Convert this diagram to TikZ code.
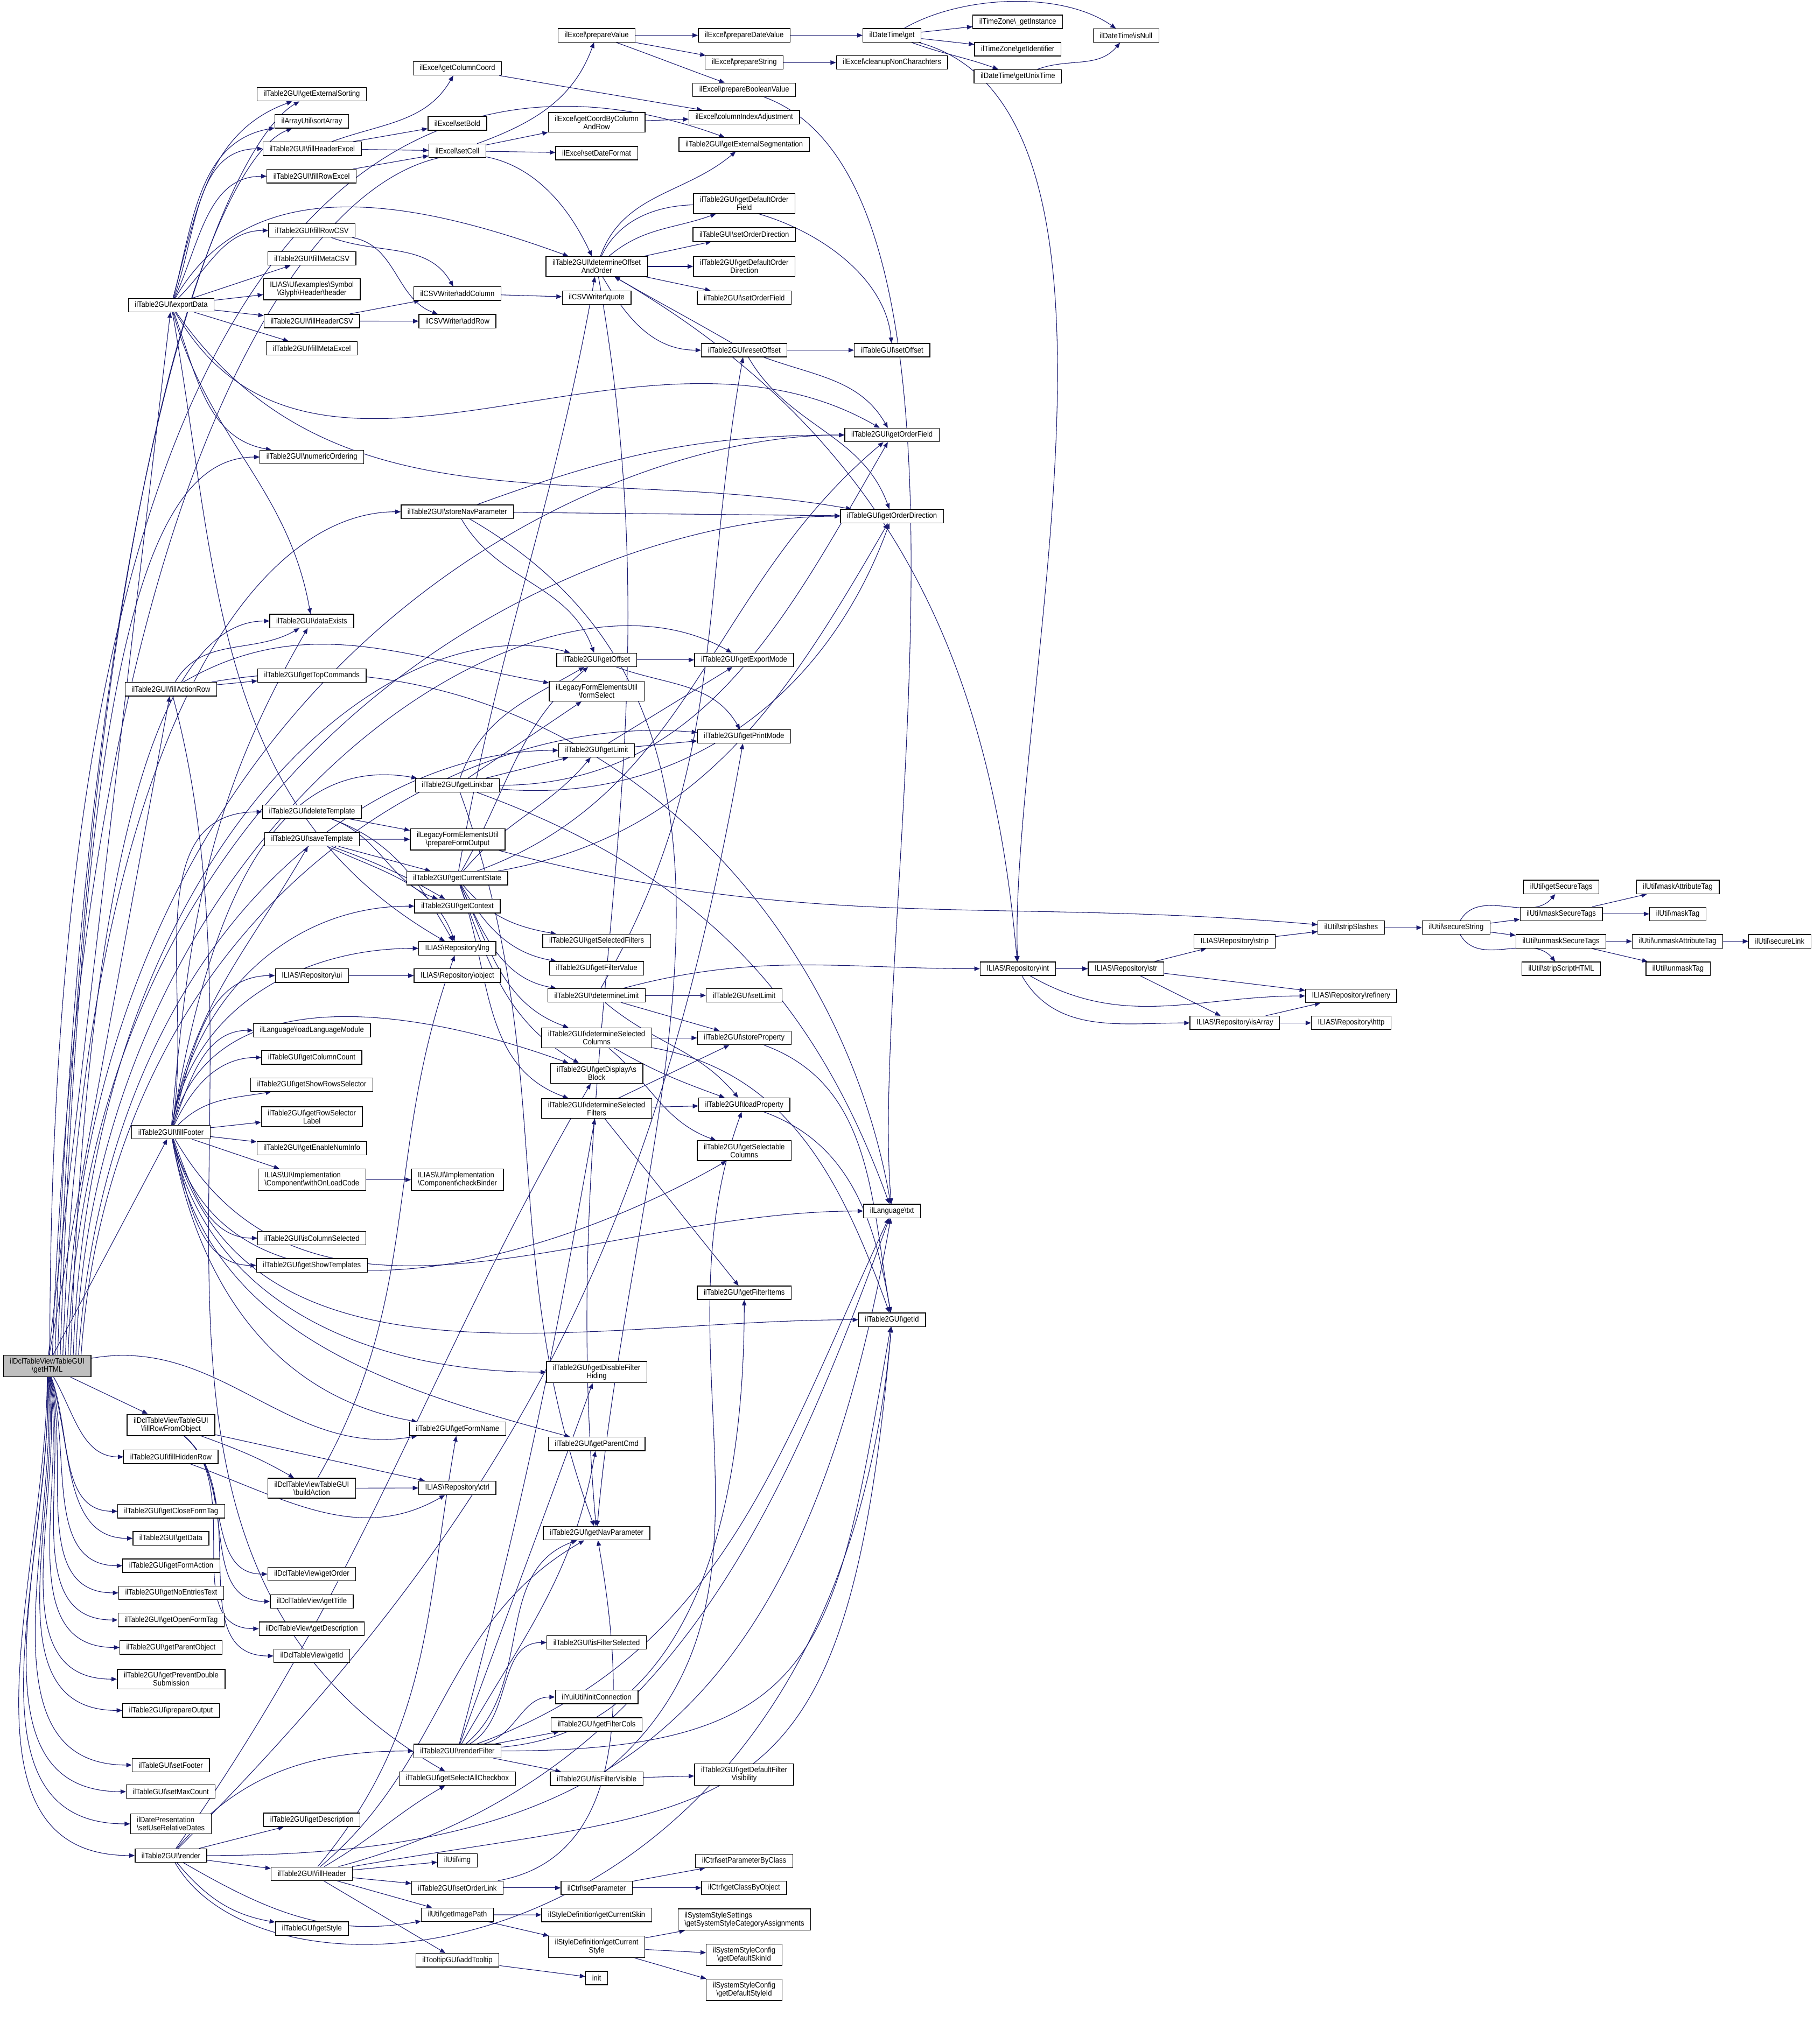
\documentclass[tikz,border=0pt]{standalone}
\usepackage{fontspec}
\setmainfont{Liberation Sans}[FakeStretch=0.9]
\usetikzlibrary{arrows.meta}
\definecolor{callblue}{HTML}{191970}
\definecolor{rootgray}{HTML}{BFBFBF}
\newcommand{\bsl}{\textbackslash}
\pgfdeclarelayer{edges}
\pgfsetlayers{edges,main}

\begin{document}
\begin{tikzpicture}[x=1pt,y=-1pt,>={Triangle[length=4.2pt,width=3.4pt]},font=\fontsize{6}{6.2}\selectfont]
        \tikzset{box/.style={draw,line width=0.55pt,fill=white,inner xsep=5pt,inner ysep=2.3pt,minimum height=10.4pt,align=center}}
        \tikzset{lbox/.style={box,align=left}}
        \tikzset{call/.style={->,draw=callblue,line width=0.45pt}}
        \useasboundingbox (0,0) rectangle (1391,1568);
        % column 1
        \node[box,fill=rootgray] (getHTML) at (36.2,1047.9) {ilDclTableViewTableGUI\\\bsl getHTML};
        \node[box] (exportData) at (131.3,234.1) {ilTable2GUI\bsl exportData};
        \node[box] (fillActionRow) at (131.1,528.7) {ilTable2GUI\bsl fillActionRow};
        \node[box] (fillFooter) at (131.1,868.4) {ilTable2GUI\bsl fillFooter};
        \node[box] (fillRowFromObject) at (131.1,1093.1) {ilDclTableViewTableGUI\\\bsl fillRowFromObject};
        \node[box] (fillHiddenRow) at (131.1,1117.6) {ilTable2GUI\bsl fillHiddenRow};
        \node[box] (getCloseFormTag) at (131.3,1159.3) {ilTable2GUI\bsl getCloseFormTag};
        \node[box] (getData) at (131.1,1180.1) {ilTable2GUI\bsl getData};
        \node[box] (getFormAction) at (131.3,1201.1) {ilTable2GUI\bsl getFormAction};
        \node[box] (getNoEntriesText) at (131.3,1221.9) {ilTable2GUI\bsl getNoEntriesText};
        \node[box] (getOpenFormTag) at (131.3,1242.7) {ilTable2GUI\bsl getOpenFormTag};
        \node[box] (getParentObject) at (131.1,1263.8) {ilTable2GUI\bsl getParentObject};
        \node[box] (getPreventDoubleSubmission) at (131.3,1288.1) {ilTable2GUI\bsl getPreventDouble\\Submission};
        \node[box] (prepareOutput) at (131.1,1312.1) {ilTable2GUI\bsl prepareOutput};
        \node[box] (setFooter) at (131.0,1354.0) {ilTableGUI\bsl setFooter};
        \node[box] (setMaxCount) at (131.0,1374.4) {ilTableGUI\bsl setMaxCount};
        \node[lbox] (setUseRelativeDates) at (131.0,1399.1) {ilDatePresentation\\\bsl setUseRelativeDates};
        \node[box] (render) at (131.1,1423.4) {ilTable2GUI\bsl render};
        % column 2
        \node[box] (getExternalSorting) at (239.1,72.3) {ilTable2GUI\bsl getExternalSorting};
        \node[box] (sortArray) at (239.1,93.1) {ilArrayUtil\bsl sortArray};
        \node[box] (fillHeaderExcel) at (239.4,114.1) {ilTable2GUI\bsl fillHeaderExcel};
        \node[box] (fillRowExcel) at (239.0,135.2) {ilTable2GUI\bsl fillRowExcel};
        \node[box] (fillRowCSV) at (239.2,176.8) {ilTable2GUI\bsl fillRowCSV};
        \node[box] (fillMetaCSV) at (239.2,198.2) {ilTable2GUI\bsl fillMetaCSV};
        \node[box] (glyphHeader) at (239.2,221.8) {ILIAS\bsl UI\bsl examples\bsl Symbol\\\bsl Glyph\bsl Header\bsl header};
        \node[box] (fillHeaderCSV) at (239.2,246.3) {ilTable2GUI\bsl fillHeaderCSV};
        \node[box] (fillMetaExcel) at (239.2,267.2) {ilTable2GUI\bsl fillMetaExcel};
        \node[box] (numericOrdering) at (239.2,350.6) {ilTable2GUI\bsl numericOrdering};
        \node[box] (dataExists) at (239.1,476.4) {ilTable2GUI\bsl dataExists};
        \node[box] (getTopCommands) at (239.2,518.3) {ilTable2GUI\bsl getTopCommands};
        \node[box] (deleteTemplate) at (239.3,622.8) {ilTable2GUI\bsl deleteTemplate};
        \node[box] (saveTemplate) at (239.3,643.8) {ilTable2GUI\bsl saveTemplate};
        \node[box] (repoUi) at (239.2,748.4) {ILIAS\bsl Repository\bsl ui};
        \node[box] (loadLanguageModule) at (239.2,790.4) {ilLanguage\bsl loadLanguageModule};
        \node[box] (getColumnCount) at (239.1,811.2) {ilTableGUI\bsl getColumnCount};
        \node[box] (getShowRowsSelector) at (239.1,832.0) {ilTable2GUI\bsl getShowRowsSelector};
        \node[box] (getRowSelectorLabel) at (239.2,856.6) {ilTable2GUI\bsl getRowSelector\\Label};
        \node[box] (getEnableNumInfo) at (239.2,880.8) {ilTable2GUI\bsl getEnableNumInfo};
        \node[lbox] (withOnLoadCode) at (239.2,905.0) {ILIAS\bsl UI\bsl Implementation\\\bsl Component\bsl withOnLoadCode};
        \node[box] (isColumnSelected) at (239.2,949.8) {ilTable2GUI\bsl isColumnSelected};
        \node[box] (getShowTemplates) at (239.2,970.7) {ilTable2GUI\bsl getShowTemplates};
        \node[box] (buildAction) at (239.1,1141.6) {ilDclTableViewTableGUI\\\bsl buildAction};
        \node[box] (tvGetOrder) at (239.1,1207.5) {ilDclTableView\bsl getOrder};
        \node[box] (tvGetTitle) at (239.1,1228.5) {ilDclTableView\bsl getTitle};
        \node[box] (tvGetDescription) at (239.1,1249.4) {ilDclTableView\bsl getDescription};
        \node[box] (tvGetId) at (239.1,1270.3) {ilDclTableView\bsl getId};
        \node[box] (getDescription) at (239.2,1396.0) {ilTable2GUI\bsl getDescription};
        \node[box] (fillHeader) at (239.1,1437.4) {ilTable2GUI\bsl fillHeader};
        \node[box] (getStyle) at (239.2,1479.5) {ilTableGUI\bsl getStyle};
        % column 3
        \node[box] (getColumnCoord) at (350.8,52.5) {ilExcel\bsl getColumnCoord};
        \node[box] (setBold) at (350.8,94.7) {ilExcel\bsl setBold};
        \node[box] (setCell) at (350.8,115.7) {ilExcel\bsl setCell};
        \node[box] (addColumn) at (350.8,225.2) {ilCSVWriter\bsl addColumn};
        \node[box] (addRow) at (350.8,246.4) {ilCSVWriter\bsl addRow};
        \node[box] (storeNavParameter) at (350.7,392.6) {ilTable2GUI\bsl storeNavParameter};
        \node[box] (getLinkbar) at (350.8,602.4) {ilTable2GUI\bsl getLinkbar};
        \node[box] (prepareFormOutput) at (351.0,643.9) {ilLegacyFormElementsUtil\\\bsl prepareFormOutput};
        \node[box] (getCurrentState) at (350.7,673.7) {ilTable2GUI\bsl getCurrentState};
        \node[box] (getContext) at (350.8,695.1) {ilTable2GUI\bsl getContext};
        \node[box] (repoLng) at (350.7,727.5) {ILIAS\bsl Repository\bsl lng};
        \node[box] (repoObject) at (350.8,748.4) {ILIAS\bsl Repository\bsl object};
        \node[lbox] (checkBinder) at (350.8,905.0) {ILIAS\bsl UI\bsl Implementation\\\bsl Component\bsl checkBinder};
        \node[box] (getFormName) at (350.9,1096.1) {ilTable2GUI\bsl getFormName};
        \node[box] (repoCtrl) at (350.7,1141.4) {ILIAS\bsl Repository\bsl ctrl};
        \node[box] (renderFilter) at (350.8,1343.2) {ilTable2GUI\bsl renderFilter};
        \node[box] (getSelectAllCheckbox) at (350.8,1364.3) {ilTableGUI\bsl getSelectAllCheckbox};
        \node[box] (utilImg) at (350.8,1427.1) {ilUtil\bsl img};
        \node[box] (setOrderLink) at (350.8,1448.2) {ilTable2GUI\bsl setOrderLink};
        \node[box] (getImagePath) at (350.8,1468.8) {ilUtil\bsl getImagePath};
        \node[box] (addTooltip) at (350.8,1503.7) {ilTooltipGUI\bsl addTooltip};
        % column 4
        \node[box] (prepareValue) at (457.6,27.1) {ilExcel\bsl prepareValue};
        \node[box] (getCoordByColumnAndRow) at (457.6,93.9) {ilExcel\bsl getCoordByColumn\\AndRow};
        \node[box] (setDateFormat) at (457.6,117.5) {ilExcel\bsl setDateFormat};
        \node[box] (determineOffsetAndOrder) at (457.6,204.4) {ilTable2GUI\bsl determineOffset\\AndOrder};
        \node[box] (csvQuote) at (457.6,228.4) {ilCSVWriter\bsl quote};
        \node[box] (getOffset) at (457.6,506.2) {ilTable2GUI\bsl getOffset};
        \node[box] (formSelect) at (457.6,530.3) {ilLegacyFormElementsUtil\\\bsl formSelect};
        \node[box] (getLimit) at (457.6,575.6) {ilTable2GUI\bsl getLimit};
        \node[box] (getSelectedFilters) at (457.6,721.9) {ilTable2GUI\bsl getSelectedFilters};
        \node[box] (getFilterValue) at (457.6,742.8) {ilTable2GUI\bsl getFilterValue};
        \node[box] (determineLimit) at (457.6,763.6) {ilTable2GUI\bsl determineLimit};
        \node[box] (determineSelectedColumns) at (457.6,796.2) {ilTable2GUI\bsl determineSelected\\Columns};
        \node[box] (getDisplayAsBlock) at (457.6,823.4) {ilTable2GUI\bsl getDisplayAs\\Block};
        \node[box] (determineSelectedFilters) at (457.6,850.4) {ilTable2GUI\bsl determineSelected\\Filters};
        \node[box] (getDisableFilterHiding) at (457.6,1052.6) {ilTable2GUI\bsl getDisableFilter\\Hiding};
        \node[box] (getParentCmd) at (457.6,1107.7) {ilTable2GUI\bsl getParentCmd};
        \node[box] (getNavParameter) at (457.6,1176.1) {ilTable2GUI\bsl getNavParameter};
        \node[box] (isFilterSelected) at (457.6,1260.0) {ilTable2GUI\bsl isFilterSelected};
        \node[box] (initConnection) at (457.6,1301.8) {ilYuiUtil\bsl initConnection};
        \node[box] (getFilterCols) at (457.6,1322.9) {ilTable2GUI\bsl getFilterCols};
        \node[box] (isFilterVisible) at (457.6,1364.5) {ilTable2GUI\bsl isFilterVisible};
        \node[box] (setParameter) at (457.6,1448.2) {ilCtrl\bsl setParameter};
        \node[box] (getCurrentSkin) at (457.6,1469.0) {ilStyleDefinition\bsl getCurrentSkin};
        \node[box] (getCurrentStyle) at (457.6,1493.5) {ilStyleDefinition\bsl getCurrent\\Style};
        \node[box] (init) at (457.6,1517.4) {init};
        % column 5
        \node[box] (prepareDateValue) at (570.8,27.1) {ilExcel\bsl prepareDateValue};
        \node[box] (prepareString) at (570.8,48.0) {ilExcel\bsl prepareString};
        \node[box] (prepareBooleanValue) at (570.8,68.9) {ilExcel\bsl prepareBooleanValue};
        \node[box] (columnIndexAdjustment) at (570.8,89.9) {ilExcel\bsl columnIndexAdjustment};
        \node[box] (getExternalSegmentation) at (570.8,110.8) {ilTable2GUI\bsl getExternalSegmentation};
        \node[box] (getDefaultOrderField) at (570.8,156.1) {ilTable2GUI\bsl getDefaultOrder\\Field};
        \node[box] (setOrderDirection) at (570.8,179.9) {ilTableGUI\bsl setOrderDirection};
        \node[box] (getDefaultOrderDirection) at (570.8,204.4) {ilTable2GUI\bsl getDefaultOrder\\Direction};
        \node[box] (setOrderField) at (570.8,228.4) {ilTable2GUI\bsl setOrderField};
        \node[box] (resetOffset) at (570.8,268.6) {ilTable2GUI\bsl resetOffset};
        \node[box] (getExportMode) at (570.7,506.2) {ilTable2GUI\bsl getExportMode};
        \node[box] (getPrintMode) at (570.7,565.0) {ilTable2GUI\bsl getPrintMode};
        \node[box] (setLimit) at (570.7,763.6) {ilTable2GUI\bsl setLimit};
        \node[box] (storeProperty) at (570.8,796.2) {ilTable2GUI\bsl storeProperty};
        \node[box] (loadProperty) at (570.8,847.5) {ilTable2GUI\bsl loadProperty};
        \node[box] (getSelectableColumns) at (570.8,882.7) {ilTable2GUI\bsl getSelectable\\Columns};
        \node[box] (getFilterItems) at (570.8,991.7) {ilTable2GUI\bsl getFilterItems};
        \node[box] (getDefaultFilterVisibility) at (570.7,1361.3) {ilTable2GUI\bsl getDefaultFilter\\Visibility};
        \node[box] (setParameterByClass) at (570.7,1427.5) {ilCtrl\bsl setParameterByClass};
        \node[box] (getClassByObject) at (570.7,1448.2) {ilCtrl\bsl getClassByObject};
        \node[lbox] (getSystemStyleCategoryAssignments) at (570.9,1472.5) {ilSystemStyleSettings\\\bsl getSystemStyleCategoryAssignments};
        \node[box] (getDefaultSkinId) at (570.7,1499.5) {ilSystemStyleConfig\\\bsl getDefaultSkinId};
        \node[box] (getDefaultStyleId) at (570.7,1526.4) {ilSystemStyleConfig\\\bsl getDefaultStyleId};
        % column 6
        \node[box] (dateTimeGet) at (684.1,27.1) {ilDateTime\bsl get};
        \node[box] (cleanupNonCharachters) at (684.1,48.0) {ilExcel\bsl cleanupNonCharachters};
        \node[box] (setOffset) at (684.2,268.6) {ilTableGUI\bsl setOffset};
        \node[box] (getOrderField) at (684.1,333.7) {ilTable2GUI\bsl getOrderField};
        \node[box] (getOrderDirection) at (684.1,396.0) {ilTableGUI\bsl getOrderDirection};
        \node[box] (txt) at (684.1,929.0) {ilLanguage\bsl txt};
        \node[box] (getId) at (684.1,1012.4) {ilTable2GUI\bsl getId};
        % columns 7 and further
        \node[box] (getInstance) at (780.6,16.7) {ilTimeZone\bsl\_getInstance};
        \node[box] (getIdentifier) at (780.6,37.8) {ilTimeZone\bsl getIdentifier};
        \node[box] (getUnixTime) at (780.6,58.6) {ilDateTime\bsl getUnixTime};
        \node[box] (isNull) at (863.6,27.3) {ilDateTime\bsl isNull};
        \node[box] (repoInt) at (780.6,743.1) {ILIAS\bsl Repository\bsl int};
        \node[box] (repoStr) at (863.6,743.1) {ILIAS\bsl Repository\bsl str};
        \node[box] (repoStrip) at (946.9,722.1) {ILIAS\bsl Repository\bsl strip};
        \node[box] (repoIsArray) at (947.1,784.7) {ILIAS\bsl Repository\bsl isArray};
        \node[box] (stripSlashes) at (1036.3,711.6) {ilUtil\bsl stripSlashes};
        \node[box] (repoRefinery) at (1036.2,764.0) {ILIAS\bsl Repository\bsl refinery};
        \node[box] (repoHttp) at (1036.3,784.7) {ILIAS\bsl Repository\bsl http};
        \node[box] (secureString) at (1116.8,711.6) {ilUtil\bsl secureString};
        \node[box] (getSecureTags) at (1197.4,680.4) {ilUtil\bsl getSecureTags};
        \node[box] (maskSecureTags) at (1197.4,701.1) {ilUtil\bsl maskSecureTags};
        \node[box] (unmaskSecureTags) at (1197.2,722.1) {ilUtil\bsl unmaskSecureTags};
        \node[box] (stripScriptHTML) at (1197.4,743.1) {ilUtil\bsl stripScriptHTML};
        \node[box] (maskAttributeTag) at (1286.8,680.4) {ilUtil\bsl maskAttributeTag};
        \node[box] (maskTag) at (1286.8,701.1) {ilUtil\bsl maskTag};
        \node[box] (unmaskAttributeTag) at (1286.6,722.1) {ilUtil\bsl unmaskAttributeTag};
        \node[box] (unmaskTag) at (1287.0,743.1) {ilUtil\bsl unmaskTag};
        \node[box] (secureLink) at (1365.0,722.1) {ilUtil\bsl secureLink};

        \begin{pgfonlayer}{edges}
        % getHTML
        \draw[call] (getHTML) -- (exportData);
        \draw[call] (getHTML) -- (fillActionRow);
        \draw[call] (getHTML) -- (fillFooter);
        \draw[call] ([xshift=2pt]getHTML.north) to[out=90,in=160,out distance=900pt,in distance=250pt] (getExternalSegmentation);
        \draw[call] ([xshift=4pt]getHTML.north) to[out=88,in=115,out distance=880pt,in distance=220pt] (determineOffsetAndOrder);
        \draw[call] ([xshift=6pt]getHTML.north) to[out=88,in=210,out distance=700pt,in distance=60pt] (getExternalSorting);
        \draw[call] ([xshift=8pt]getHTML.north) to[out=88,in=200,out distance=680pt,in distance=60pt] (sortArray);
        \draw[call] ([xshift=10pt]getHTML.north) to[out=88,in=180,out distance=520pt,in distance=90pt] (numericOrdering);
        \draw[call] ([xshift=12pt]getHTML.north) to[out=88,in=180,out distance=480pt,in distance=110pt] (storeNavParameter);
        \draw[call] ([xshift=14pt]getHTML.north) to[out=88,in=180,out distance=520pt,in distance=200pt] (getOrderField);
        \draw[call] ([xshift=16pt]getHTML.north) to[out=88,in=180,out distance=470pt,in distance=200pt] (getOrderDirection);
        \draw[call] ([xshift=18pt]getHTML.north) to[out=88,in=180,out distance=400pt,in distance=80pt] (dataExists);
        \draw[call] ([xshift=20pt]getHTML.north) to[out=88,in=165,out distance=380pt,in distance=150pt] (getOffset);
        \draw[call] ([xshift=22pt]getHTML.north) to[out=88,in=150,out distance=400pt,in distance=180pt] (getExportMode);
        \draw[call] ([xshift=24pt]getHTML.north) to[out=86,in=180,out distance=320pt,in distance=150pt] (getLimit);
        \draw[call] ([xshift=26pt]getHTML.north) to[out=86,in=175,out distance=330pt,in distance=200pt] (getPrintMode);
        \draw[call] (getHTML) -- (fillRowFromObject);
        \draw[call] (getHTML) to[out=-60,in=180] (fillHiddenRow);
        \draw[call] (getHTML) to[out=-70,in=180] (getCloseFormTag);
        \draw[call] (getHTML) to[out=-72,in=180] (getData);
        \draw[call] (getHTML) to[out=-74,in=180] (getFormAction);
        \draw[call] (getHTML) to[out=-76,in=180] (getNoEntriesText);
        \draw[call] (getHTML) to[out=-78,in=180] (getOpenFormTag);
        \draw[call] (getHTML) to[out=-80,in=180] (getParentObject);
        \draw[call] (getHTML) to[out=-82,in=180] (getPreventDoubleSubmission);
        \draw[call] (getHTML) to[out=-84,in=180] (prepareOutput);
        \draw[call] (getHTML) to[out=-86,in=180] (setFooter);
        \draw[call] (getHTML) to[out=-88,in=180] (setMaxCount);
        \draw[call] (getHTML) to[out=-88,in=180] (setUseRelativeDates);
        \draw[call] (getHTML) to[out=-90,in=180] (render);
        \draw[call] (getHTML) to[out=10,in=190] (getFormName);
        % exportData
        \draw[call] (exportData) to[out=75,in=200] (getExternalSorting);
        \draw[call] (exportData) to[out=75,in=190] (sortArray);
        \draw[call] (exportData) to[out=70,in=180] (fillHeaderExcel);
        \draw[call] (exportData) to[out=65,in=180] (fillRowExcel);
        \draw[call] (exportData) to[out=45,in=180] (fillRowCSV);
        \draw[call] (exportData) -- (fillMetaCSV);
        \draw[call] (exportData) -- (glyphHeader);
        \draw[call] (exportData) -- (fillHeaderCSV);
        \draw[call] (exportData) -- (fillMetaExcel);
        \draw[call] (exportData) to[out=60,in=160] (determineOffsetAndOrder);
        \draw[call] (exportData) to[out=-70,in=170] (numericOrdering);
        \draw[call] (exportData) to[out=-75,in=100] (dataExists);
        \draw[call] (exportData) to[out=-60,in=150] (getOrderField);
        \draw[call] (exportData) to[out=-55,in=170] (getOrderDirection);
        \draw[call] (exportData) to[out=-80,in=150] (repoLng);
        % excel and csv helpers
        \draw[call] (fillHeaderExcel) to[out=20,in=-120] (getColumnCoord);
        \draw[call] (fillHeaderExcel) -- (setBold);
        \draw[call] (fillHeaderExcel) -- (setCell);
        \draw[call] (fillRowExcel) -- (setCell);
        \draw[call] (setCell) to[out=20,in=-110] (prepareValue);
        \draw[call] (setCell) -- (getCoordByColumnAndRow);
        \draw[call] (setCell) -- (setDateFormat);
        \draw[call] (prepareValue) -- (prepareDateValue);
        \draw[call] (prepareValue) -- (prepareString);
        \draw[call] (prepareValue) to[out=-20,in=160] (prepareBooleanValue);
        \draw[call] (prepareDateValue) -- (dateTimeGet);
        \draw[call] (prepareString) -- (cleanupNonCharachters);
        \draw[call] (prepareBooleanValue) to[out=-20,in=95,looseness=0.6] (txt);
        \draw[call] (dateTimeGet) -- (getInstance);
        \draw[call] (dateTimeGet) -- (getIdentifier);
        \draw[call] (dateTimeGet) to[out=-20,in=160] (getUnixTime);
        \draw[call] (dateTimeGet) to[out=30,in=145,looseness=0.8] (isNull);
        \draw[call] (dateTimeGet) to[out=-15,in=92,looseness=0.7] (repoInt);
        \draw[call] (getUnixTime) to[out=20,in=-130] (isNull);
        \draw[call] (getColumnCoord) -- (columnIndexAdjustment);
        \draw[call] (getCoordByColumnAndRow) -- (columnIndexAdjustment);
        \draw[call] (fillRowCSV) to[out=-20,in=120] (addColumn);
        \draw[call] (fillRowCSV) to[out=-10,in=160] (addRow);
        \draw[call] (fillHeaderCSV) -- (addColumn);
        \draw[call] (fillHeaderCSV) -- (addRow);
        \draw[call] (addColumn) -- (csvQuote);
        % offset and order
        \draw[call] (determineOffsetAndOrder) to[out=70,in=-140] (getExternalSegmentation);
        \draw[call] (determineOffsetAndOrder) to[out=40,in=-160] (getDefaultOrderField);
        \draw[call] (determineOffsetAndOrder) -- (setOrderDirection);
        \draw[call] (determineOffsetAndOrder) -- (getDefaultOrderDirection);
        \draw[call] (determineOffsetAndOrder) -- (setOrderField);
        \draw[call] (determineOffsetAndOrder) to[out=65,in=95] (setOffset);
        \draw[call] (determineOffsetAndOrder) to[out=-60,in=180] (resetOffset);
        \draw[call] (determineOffsetAndOrder) to[out=-30,in=95] (repoInt);
        \draw[call] (determineOffsetAndOrder) to[out=-80,in=95] (getNavParameter);
        \draw[call] (resetOffset) to[out=150,in=-30] (determineOffsetAndOrder);
        \draw[call] (resetOffset) -- (setOffset);
        \draw[call] (resetOffset) to[out=-20,in=120] (getOrderField);
        \draw[call] (resetOffset) to[out=-60,in=110] (getOrderDirection);
        \draw[call] (storeNavParameter) to[out=-60,in=110] (getOffset);
        \draw[call] (storeNavParameter) to[out=20,in=180] (getOrderField);
        \draw[call] (storeNavParameter) -- (getOrderDirection);
        \draw[call] (storeNavParameter) to[out=-30,in=85] (getNavParameter);
        % action row and footer
        \draw[call] (fillActionRow) to[out=60,in=-150] (dataExists);
        \draw[call] (fillActionRow) -- (getTopCommands);
        \draw[call] (fillActionRow) to[out=30,in=170] (formSelect);
        \draw[call] (fillActionRow) to[out=10,in=100] (txt);
        \draw[call] (fillActionRow) to[out=-75,in=150] (getSelectAllCheckbox);
        \draw[call] (fillFooter) to[out=80,in=170] (getLinkbar);
        \draw[call] (fillFooter) to[out=80,in=180] (deleteTemplate);
        \draw[call] (fillFooter) to[out=80,in=-120] (saveTemplate);
        \draw[call] (fillFooter) to[out=80,in=180] (getContext);
        \draw[call] (fillFooter) to[out=80,in=180] (repoLng);
        \draw[call] (fillFooter) to[out=75,in=180] (repoUi);
        \draw[call] (fillFooter) to[out=85,in=-120] (dataExists);
        \draw[call] (fillFooter) to[out=75,in=160] (getDisplayAsBlock);
        \draw[call] (fillFooter) to[out=70,in=180] (loadLanguageModule);
        \draw[call] (fillFooter) to[out=65,in=180] (getColumnCount);
        \draw[call] (fillFooter) to[out=45,in=190] (getShowRowsSelector);
        \draw[call] (fillFooter) -- (getRowSelectorLabel);
        \draw[call] (fillFooter) -- (getEnableNumInfo);
        \draw[call] (fillFooter) -- (withOnLoadCode);
        \draw[call] (fillFooter) to[out=-60,in=180] (txt);
        \draw[call] (fillFooter) to[out=-70,in=180] (isColumnSelected);
        \draw[call] (fillFooter) to[out=-75,in=180] (getShowTemplates);
        \draw[call] (fillFooter) to[out=-75,in=-150] (getSelectableColumns);
        \draw[call] (fillFooter) to[out=-75,in=180] (getId);
        \draw[call] (fillFooter) to[out=-78,in=180] (getDisableFilterHiding);
        \draw[call] (fillFooter) to[out=-80,in=170] (getFormName);
        \draw[call] (fillFooter) to[out=-80,in=165] (getParentCmd);
        \draw[call] (deleteTemplate) -- (prepareFormOutput);
        \draw[call] (deleteTemplate) to[out=-20,in=160] (getContext);
        \draw[call] (deleteTemplate) to[out=-20,in=120] (repoLng);
        \draw[call] (saveTemplate) -- (prepareFormOutput);
        \draw[call] (saveTemplate) -- (getCurrentState);
        \draw[call] (saveTemplate) to[out=-20,in=150] (getContext);
        \draw[call] (saveTemplate) to[out=-25,in=110] (repoLng);
        \draw[call] (prepareFormOutput) to[out=-15,in=175] (stripSlashes);
        \draw[call] (repoUi) -- (repoObject);
        \draw[call] (withOnLoadCode) -- (checkBinder);
        % linkbar and state
        \draw[call] (getLinkbar) to[out=70,in=-150] (getOffset);
        \draw[call] (getLinkbar) -- (formSelect);
        \draw[call] (getLinkbar) -- (getLimit);
        \draw[call] (getLinkbar) to[out=0,in=-120] (getOrderField);
        \draw[call] (getLinkbar) to[out=-5,in=-110] (getOrderDirection);
        \draw[call] (getLinkbar) to[out=-20,in=110] (txt);
        \draw[call] (getLinkbar) to[out=-70,in=110] (getNavParameter);
        \draw[call] (getCurrentState) to[out=80,in=-100] (determineOffsetAndOrder);
        \draw[call] (getCurrentState) to[out=60,in=-140] (getOffset);
        \draw[call] (getCurrentState) to[out=50,in=-130] (getLimit);
        \draw[call] (getCurrentState) to[out=20,in=-140] (getOrderField);
        \draw[call] (getCurrentState) to[out=10,in=-120] (getOrderDirection);
        \draw[call] (getCurrentState) to[out=-50,in=170] (getSelectedFilters);
        \draw[call] (getCurrentState) to[out=-60,in=170] (getFilterValue);
        \draw[call] (getCurrentState) to[out=-65,in=170] (determineLimit);
        \draw[call] (getCurrentState) to[out=-65,in=160] (determineSelectedColumns);
        \draw[call] (getCurrentState) to[out=-70,in=160] (determineSelectedFilters);
        \draw[call] (getCurrentState) to[out=-70,in=150] (getDisplayAsBlock);
        \draw[call] (getOffset) -- (getExportMode);
        \draw[call] (getOffset) to[out=-20,in=120] (getPrintMode);
        \draw[call] (getLimit) -- (getExportMode);
        \draw[call] (getLimit) -- (getPrintMode);
        \draw[call] (determineLimit) -- (setLimit);
        \draw[call] (determineLimit) -- (storeProperty);
        \draw[call] (determineLimit) to[out=-40,in=130] (loadProperty);
        \draw[call] (determineLimit) to[out=60,in=-100] (resetOffset);
        \draw[call] (determineLimit) to[out=15,in=180] (repoInt);
        \draw[call] (determineSelectedColumns) -- (storeProperty);
        \draw[call] (determineSelectedColumns) to[out=-30,in=160] (loadProperty);
        \draw[call] (determineSelectedColumns) to[out=-40,in=160] (getSelectableColumns);
        \draw[call] (determineSelectedColumns) to[out=-10,in=110] (getId);
        \draw[call] (determineSelectedFilters) -- (storeProperty);
        \draw[call] (determineSelectedFilters) -- (loadProperty);
        \draw[call] (determineSelectedFilters) -- (getFilterItems);
        \draw[call] (storeProperty) to[out=-20,in=100] (getId);
        \draw[call] (loadProperty) to[out=-20,in=100] (getId);
        % rows
        \draw[call] (fillRowFromObject) to[out=-20,in=150] (buildAction);
        \draw[call] (fillRowFromObject) to[out=-40,in=180] (tvGetOrder);
        \draw[call] (fillRowFromObject) to[out=-40,in=180] (tvGetTitle);
        \draw[call] (fillRowFromObject) to[out=-40,in=180] (tvGetDescription);
        \draw[call] (fillRowFromObject) to[out=-40,in=180] (tvGetId);
        \draw[call] (fillRowFromObject) -- (repoCtrl);
        \draw[call] (fillHiddenRow) to[out=-20,in=-150] (repoCtrl);
        \draw[call] (buildAction) -- (repoCtrl);
        \draw[call] (buildAction) to[out=60,in=-110] (repoLng);
        % render
        \draw[call] (render) -- (getDescription);
        \draw[call] (render) -- (fillHeader);
        \draw[call] (render) to[out=-50,in=170] (getStyle);
        \draw[call] (render) to[out=50,in=180] (renderFilter);
        \draw[call] (render) to[out=-30,in=190] (getImagePath);
        \draw[call] (render) to[out=55,in=-120] (getDisplayAsBlock);
        \draw[call] (render) to[out=-60,in=-95,out distance=150pt,in distance=500pt] (getId);
        \draw[call] (render) to[out=0,in=-100,out distance=300pt,in distance=400pt] (txt);
        \draw[call] (render) to[out=45,in=-100] (getPrintMode);
        \draw[call] (renderFilter) to[out=30,in=180] (isFilterSelected);
        \draw[call] (renderFilter) to[out=15,in=180] (initConnection);
        \draw[call] (renderFilter) -- (getFilterCols);
        \draw[call] (renderFilter) -- (isFilterVisible);
        \draw[call] (renderFilter) to[out=40,in=-160] (getNavParameter);
        \draw[call] (renderFilter) to[out=70,in=-110] (getDisableFilterHiding);
        \draw[call] (renderFilter) to[out=75,in=-100] (determineSelectedFilters);
        \draw[call] (renderFilter) to[out=5,in=-90] (getFilterItems);
        \draw[call] (renderFilter) to[out=20,in=-115] (txt);
        \draw[call] (renderFilter) to[out=0,in=-100,out distance=250pt,in distance=250pt] (getId);
        \draw[call] (renderFilter) to[out=60,in=-100] (getParentCmd);
        \draw[call] (isFilterVisible) to[out=40,in=-110] (loadProperty);
        \draw[call] (isFilterVisible) -- (getDefaultFilterVisibility);
        \draw[call] (fillHeader) -- (utilImg);
        \draw[call] (fillHeader) -- (setOrderLink);
        \draw[call] (fillHeader) -- (getImagePath);
        \draw[call] (fillHeader) -- (addTooltip);
        \draw[call] (fillHeader) to[out=30,in=-150] (getSelectAllCheckbox);
        \draw[call] (fillHeader) to[out=50,in=-100] (getFormName);
        \draw[call] (fillHeader) to[out=40,in=-150] (getNavParameter);
        \draw[call] (fillHeader) to[out=15,in=-110] (txt);
        \draw[call] (fillHeader) to[out=10,in=-95,out distance=300pt,in distance=400pt] (getId);
        \draw[call] (setOrderLink) -- (setParameter);
        \draw[call] (setOrderLink) to[out=10,in=-80] (getNavParameter);
        \draw[call] (setParameter) -- (setParameterByClass);
        \draw[call] (setParameter) -- (getClassByObject);
        \draw[call] (getImagePath) -- (getCurrentSkin);
        \draw[call] (getImagePath) -- (getCurrentStyle);
        \draw[call] (getCurrentStyle) -- (getSystemStyleCategoryAssignments);
        \draw[call] (getCurrentStyle) -- (getDefaultSkinId);
        \draw[call] (getCurrentStyle) -- (getDefaultStyleId);
        \draw[call] (addTooltip) -- (init);
        % repository and util
        \draw[call] (repoInt) -- (repoStr);
        \draw[call] (repoInt) to[out=-30,in=180] (repoRefinery);
        \draw[call] (repoInt) to[out=-60,in=180] (repoIsArray);
        \draw[call] (repoStr) -- (repoStrip);
        \draw[call] (repoStr) -- (repoRefinery);
        \draw[call] (repoStr) -- (repoIsArray);
        \draw[call] (repoStrip) -- (stripSlashes);
        \draw[call] (repoIsArray) -- (repoRefinery);
        \draw[call] (repoIsArray) -- (repoHttp);
        \draw[call] (stripSlashes) -- (secureString);
        \draw[call] (secureString) to[out=60,in=-130] (getSecureTags);
        \draw[call] (secureString) -- (maskSecureTags);
        \draw[call] (secureString) -- (unmaskSecureTags);
        \draw[call] (secureString) to[out=-60,in=130] (stripScriptHTML);
        \draw[call] (maskSecureTags) -- (maskAttributeTag);
        \draw[call] (maskSecureTags) -- (maskTag);
        \draw[call] (unmaskSecureTags) -- (unmaskAttributeTag);
        \draw[call] (unmaskSecureTags) -- (unmaskTag);
        \draw[call] (unmaskAttributeTag) -- (secureLink);
        \end{pgfonlayer}
    \end{tikzpicture}
\end{document}
